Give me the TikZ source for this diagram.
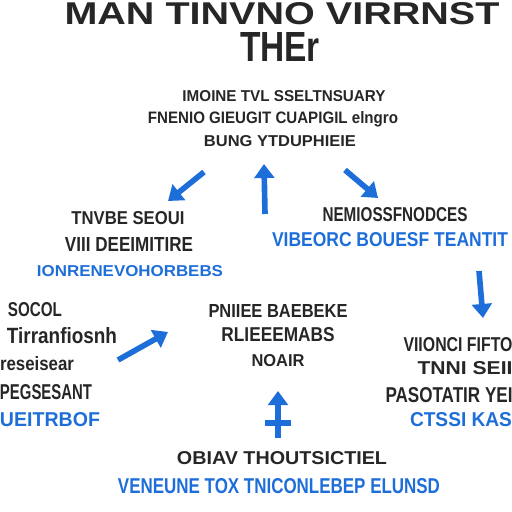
\documentclass[tikz,border=0pt]{standalone}
\usepackage{fontspec}
\setmainfont{Liberation Sans}
\usepackage{graphicx}
\usepackage{xcolor}
\usetikzlibrary{arrows.meta}

\definecolor{diagblue}{RGB}{30,110,218}
\definecolor{inkgray}{RGB}{38,38,38}

\newlength{\pxu}
\setlength{\pxu}{0.025cm}
% squeeze one line of text into w x h pixels
\newcommand{\fitline}[3]{\resizebox{#1\pxu}{#2\pxu}{#3}}

\tikzset{
  ink/.style={text=inkgray, font=\bfseries, inner sep=0pt},
  bluetext/.style={ink, text=diagblue},
  flow/.style={draw=diagblue, line width=4pt, -{Triangle[length=10pt,width=14pt]}},
}

\begin{document}
\begin{tikzpicture}[x=0.025cm, y=-0.025cm]
\useasboundingbox (0,0) rectangle (512,512);

% title
\node [ink] (t1) at (282,14) {\fitline{435}{22}{MAN TINVNO VIRRNST}};
\node [ink] (t2) at (280,47) {\fitline{80}{29}{THEr}};

% top block
\node [ink] (top1) at (284,96) {\fitline{203}{11}{IMOINE TVL SSELTNSUARY}};
\node [ink] (top2) at (273,119) {\fitline{250}{12}{FNENIO GIEUGIT CUAPIGIL elngro}};
\node [ink] (top3) at (280,141) {\fitline{152}{11}{BUNG YTDUPHIEIE}};

% left block
\node [ink] (left1) at (128,218) {\fitline{113}{13}{TNVBE SEOUI}};
\node [ink] (left2) at (129,244) {\fitline{128}{14}{VIII DEEIMITIRE}};
\node [bluetext] (left3) at (130,271) {\fitline{186}{11}{IONRENEVOHORBEBS}};

% right block
\node [ink] (right1) at (395,215) {\fitline{145}{14}{NEMIOSSFNODCES}};
\node [bluetext] (right2) at (390,240) {\fitline{236}{14}{VIBEORC BOUESF TEANTIT}};

% lower left block
\node [ink] (ll1) at (35,310) {\fitline{54}{14}{SOCOL}};
\node [ink] (ll2) at (62,336) {\fitline{110}{16}{Tirranfiosnh}};
\node [ink] (ll3) at (37,364) {\fitline{74}{14}{reseisear}};
\node [ink] (ll4) at (46,392) {\fitline{92}{15}{PEGSESANT}};
\node [bluetext] (ll5) at (50,420) {\fitline{100}{14}{UEITRBOF}};

% center block
\node [ink] (c1) at (278,311) {\fitline{139}{13}{PNIIEE BAEBEKE}};
\node [ink] (c2) at (278,335) {\fitline{113}{14}{RLIEEEMABS}};
\node [ink] (c3) at (278,361) {\fitline{53}{12}{NOAIR}};

% lower right block
\node [ink] (rl1) at (458,345) {\fitline{109}{14}{VIIONCI FIFTO}};
\node [ink] (rl2) at (465,368) {\fitline{95}{13}{TNNI SEII}};
\node [ink] (rl3) at (449,395) {\fitline{127}{15}{PASOTATIR YEI}};
\node [bluetext] (rl4) at (461,420) {\fitline{102}{14}{CTSSI KAS}};

% bottom block
\node [ink] (b1) at (282,458) {\fitline{210}{13}{OBIAV THOUTSICTIEL}};
\node [bluetext] (b2) at (279,486) {\fitline{322}{15}{VENEUNE TOX TNICONLEBEP ELUNSD}};

% arrows
\coordinate (la0) at (204,172);
\coordinate (la1) at (168,201);
\coordinate (ua0) at (265,214);
\coordinate (ua1) at (264,164);
\coordinate (ra0) at (345,170);
\coordinate (ra1) at (378,198);
\coordinate (da0) at (479,271);
\coordinate (da1) at (483,318);
\coordinate (ma0) at (118,360);
\coordinate (ma1) at (168,332);
\coordinate (ba0) at (278,438);
\coordinate (ba1) at (278,391);
\coordinate (bar0) at (265,423);
\coordinate (bar1) at (291,423);

\draw [flow] (la0) -- (la1);
\draw [flow] (ua0) -- (ua1);
\draw [flow] (ra0) -- (ra1);
\draw [flow] (da0) -- (da1);
\draw [flow] (ma0) -- (ma1);
\draw [flow] (ba0) -- (ba1);
\draw [diagblue, line width=4pt] (bar0) -- (bar1);

\end{tikzpicture}
\end{document}
